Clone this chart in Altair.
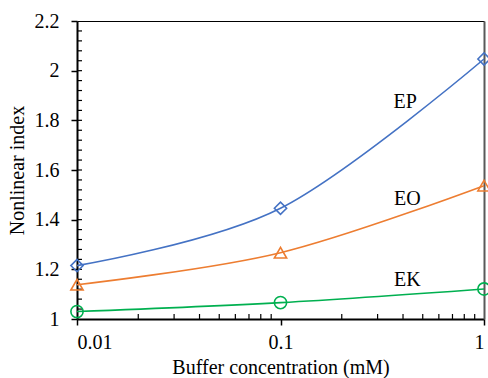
import altair as alt
import pandas as pd

conc = [0.01, 0.1, 1]
ep = [1.215, 1.446, 2.047]
eo = [1.138, 1.267, 1.537]
ek = [1.030, 1.066, 1.121]

series_names = ["EP", "EO", "EK"]
series_colors = ["#4472C4", "#ED7D31", "#00B050"]
series_shapes = ["diamond", "triangle-up", "circle"]

label_x = [0.41, 0.42, 0.42]
label_y = [1.874, 1.483, 1.157]

x_major = [0.01, 0.1, 1]
x_minor = [0.02, 0.03, 0.04, 0.05, 0.06, 0.07, 0.08, 0.09,
           0.2, 0.3, 0.4, 0.5, 0.6, 0.7, 0.8, 0.9]
y_major = [1.0, 1.2, 1.4, 1.6, 1.8, 2.0, 2.2]
y_minor = [round(1.0 + 0.04 * i, 2) for i in range(1, 30)]

W, H = 407, 298
FONT = "Liberation Serif, Times New Roman, serif"
FS = 20

rows = []
for name, vals in zip(series_names, [ep, eo, ek]):
    for c, v in zip(conc, vals):
        rows.append({"conc": c, "value": v, "series": name})
df = pd.DataFrame(rows)

lab = pd.DataFrame({"x": label_x, "y": label_y, "text": series_names})
xm = pd.DataFrame({"v": x_minor})
ym = pd.DataFrame({"v": y_minor})

xscale = alt.Scale(type="log", domain=[0.01, 1])
yscale = alt.Scale(domain=[1, 2.2], nice=False, zero=False)
color = alt.Color("series:N", scale=alt.Scale(domain=series_names, range=series_colors), legend=None)

x_axis = alt.Axis(values=x_major, format="~g", title="Buffer concentration (mM)",
                  tickSize=6, tickWidth=1.5, tickColor="black", domainColor="black", domainWidth=2,
                  labelFont=FONT, labelFontSize=FS, labelColor="black", labelPadding=7,
                  titleFont=FONT, titleFontSize=FS, titleFontWeight="normal", titleColor="black",
                  titlePadding=5, grid=False)
y_axis = alt.Axis(values=y_major, format="~g", title="Nonlinear index",
                  tickSize=6, tickWidth=1.5, tickColor="black", domainColor="black", domainWidth=2,
                  labelFont=FONT, labelFontSize=FS, labelColor="black", labelPadding=12,
                  titleFont=FONT, titleFontSize=FS, titleFontWeight="normal", titleColor="black",
                  titlePadding=7, grid=False)

base = alt.Chart(df)

lines = base.mark_line(interpolate="cardinal", strokeWidth=1.6).encode(
    x=alt.X("conc:Q", scale=xscale, axis=x_axis),
    y=alt.Y("value:Q", scale=yscale, axis=y_axis),
    color=color,
    detail="series:N",
)

points = base.mark_point(size=150, filled=False, strokeWidth=1.6, opacity=1).encode(
    x=alt.X("conc:Q", scale=xscale, axis=None),
    y=alt.Y("value:Q", scale=yscale, axis=None),
    color=color,
    shape=alt.Shape("series:N", scale=alt.Scale(domain=series_names, range=series_shapes), legend=None),
)

labels = alt.Chart(lab).mark_text(font=FONT, fontSize=FS, color="black").encode(
    x=alt.X("x:Q", scale=xscale, axis=None),
    y=alt.Y("y:Q", scale=yscale, axis=None),
    text="text:N",
)

xminor = alt.Chart(xm).mark_rule(color="black", strokeWidth=1.2).encode(
    x=alt.X("v:Q", scale=xscale, axis=None),
    y=alt.value(H - 5),
    y2=alt.value(H),
)
yminor = alt.Chart(ym).mark_rule(color="black", strokeWidth=1.2).encode(
    y=alt.Y("v:Q", scale=yscale, axis=None),
    x=alt.value(0),
    x2=alt.value(5),
)

# frame: top (black, thin) and right (gray) borders via extra axes
frame = alt.Chart(df).mark_point(opacity=0).encode(
    x=alt.X("conc:Q", scale=xscale, axis=alt.Axis(orient="top", labels=False, ticks=False, title=None,
                                                   domainColor="black", domainWidth=1.2, grid=False)),
    y=alt.Y("value:Q", scale=yscale, axis=alt.Axis(orient="right", labels=False, ticks=False, title=None,
                                                   domainColor="#595959", domainWidth=2, grid=False)),
)

chart = alt.layer(lines, xminor, yminor, frame, points, labels).resolve_axis(
    x="independent", y="independent"
).properties(
    width=W, height=H,
    autosize=alt.AutoSizeParams(type="none"),
    padding={"left": 77, "top": 21, "right": 4, "bottom": 59},
).configure_view(stroke=None).configure(background="white")

chart.save("out.html", embed_options={"renderer": "svg", "actions": False})
